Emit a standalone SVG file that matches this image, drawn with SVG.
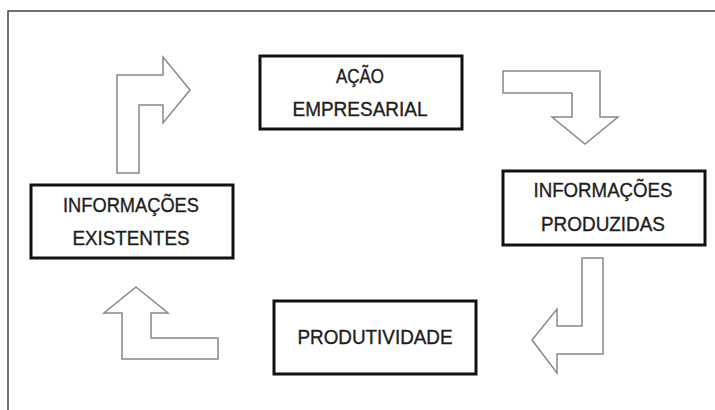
<svg xmlns="http://www.w3.org/2000/svg" width="715" height="410" viewBox="0 0 715 410">
<style>
.box{fill:#fff;stroke:#111;stroke-width:3}
.lbl{font-family:"Liberation Sans",Arial,sans-serif;font-size:19.5px;fill:#1e1e1e;stroke:#1e1e1e;stroke-width:0.35;text-anchor:middle}
.arr{fill:#fff;stroke:#888;stroke-width:1.5;stroke-linejoin:miter}
.frame{fill:none;stroke:#444;stroke-width:1.5}
</style>
<rect width="715" height="410" fill="#fff"/>
<path class="frame" d="M8,410 V11 H715"/>
<g id="acao">
<rect class="box" x="260" y="56" width="202" height="73"/>
<text class="lbl" x="360" y="83" textLength="48" lengthAdjust="spacingAndGlyphs">AÇÃO</text>
<text class="lbl" x="360" y="115.5" textLength="135" lengthAdjust="spacingAndGlyphs">EMPRESARIAL</text>
</g>
<g id="info-produzidas">
<rect class="box" x="503" y="171" width="202" height="74"/>
<text class="lbl" x="603" y="197" textLength="139" lengthAdjust="spacingAndGlyphs">INFORMAÇÕES</text>
<text class="lbl" x="603" y="231" textLength="124" lengthAdjust="spacingAndGlyphs">PRODUZIDAS</text>
</g>
<g id="produtividade">
<rect class="box" x="274" y="301" width="202" height="73"/>
<text class="lbl" x="375" y="344" textLength="155" lengthAdjust="spacingAndGlyphs">PRODUTIVIDADE</text>
</g>
<g id="info-existentes">
<rect class="box" x="31" y="185" width="202" height="73"/>
<text class="lbl" x="131" y="211.5" textLength="136" lengthAdjust="spacingAndGlyphs">INFORMAÇÕES</text>
<text class="lbl" x="131" y="245" textLength="117" lengthAdjust="spacingAndGlyphs">EXISTENTES</text>
</g>
<g id="connectors">
<polygon class="arr" points="117,173 117,75 163,75 163,57 190,90 163,123 163,105 139,105 139,173"/>
<polygon class="arr" points="503,71 600,71 600,117 618,117 585,144 552,117 572,117 572,93 503,93"/>
<polygon class="arr" points="582,258 603,258 603,354 557,354 557,373 532,340 557,309 557,326 582,326"/>
<polygon class="arr" points="136,287 168,313 151,313 151,338 218,338 218,359 122,359 122,313 104,313"/>
</g>
</svg>
